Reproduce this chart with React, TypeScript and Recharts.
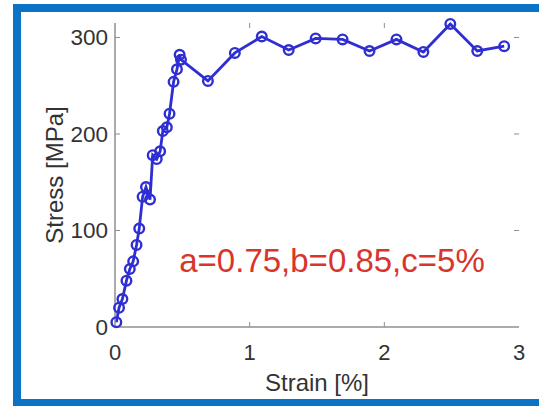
import { Line, LineChart, XAxis, YAxis } from "recharts";

const strain = [
  0.01, 0.03, 0.055, 0.085, 0.11, 0.135, 0.16, 0.18, 0.205, 0.23, 0.26, 0.28,
  0.31, 0.335, 0.355, 0.385, 0.405, 0.435, 0.46, 0.48, 0.49, 0.69, 0.89, 1.09,
  1.29, 1.49, 1.69, 1.89, 2.09, 2.29, 2.49, 2.69, 2.89,
];
const stress = [
  5, 20, 29, 48, 60, 68, 85, 102, 135, 145, 132, 178, 174, 182, 203, 207, 221,
  254, 267, 282, 277, 255, 284, 301, 287, 299, 298, 286, 298, 285, 314, 286, 291,
];
const xTicks = [0, 1, 2, 3];
const yTicks = [0, 100, 200, 300];
const note = "a=0.75,b=0.85,c=5%";

const data = strain.map((s, i) => ({ strain: s, stress: stress[i] }));

const W = 539;
const H = 406;
const PLOT = { left: 115, top: 23, right: 519, bottom: 327 };
const FONT = "Arial, 'Liberation Sans', Helvetica, sans-serif";
const AXIS = "#8f8f8f";
const TXT = "#333333";
const BLUE = "#2e2ed2";
const TICK = 5;

const XTick = (props: any) => {
  const { x, payload } = props;
  const inner = payload.value > 0 && payload.value < 3;
  return (
    <g>
      {inner && (
        <>
          <line x1={x} x2={x} y1={PLOT.bottom} y2={PLOT.bottom - TICK} stroke={AXIS} />
          <line x1={x} x2={x} y1={PLOT.top} y2={PLOT.top + TICK} stroke={AXIS} />
        </>
      )}
      <text x={x} y={PLOT.bottom + 33} textAnchor="middle" fill={TXT} fontSize={22} fontFamily={FONT}>
        {payload.value}
      </text>
    </g>
  );
};

const YTick = (props: any) => {
  const { y, payload } = props;
  const inner = payload.value > 0;
  return (
    <g>
      {inner && (
        <>
          <line x1={PLOT.left} x2={PLOT.left + TICK} y1={y} y2={y} stroke={AXIS} />
          <line x1={PLOT.right} x2={PLOT.right - TICK} y1={y} y2={y} stroke={AXIS} />
        </>
      )}
      <text x={PLOT.left - 7} y={y + 8} textAnchor="end" fill={TXT} fontSize={22.5} fontFamily={FONT}>
        {payload.value}
      </text>
    </g>
  );
};

const Marker = (props: any) => {
  const { cx, cy } = props;
  return <circle cx={cx} cy={cy} r={4.8} fill="none" stroke={BLUE} strokeWidth={2.4} />;
};

export default function App() {
  return (
    <div style={{ position: "absolute", left: 0, top: 0, width: W, height: H, background: "#fff" }}>
      <div
        style={{
          position: "absolute",
          left: 13,
          top: 4,
          width: W - 13 - 8,
          height: H - 4 - 8 - 7,
          borderLeft: "8px solid #0a73c6",
          borderTop: "8px solid #0a73c6",
          borderBottom: "7px solid #0a73c6",
          borderRight: "none",
        }}
      />
      <div style={{ position: "absolute", left: 0, top: 0 }}>
        <LineChart
          width={W}
          height={H}
          data={data}
          margin={{ top: PLOT.top, right: W - PLOT.right, left: 0, bottom: 0 }}
        >
          <XAxis
            dataKey="strain"
            type="number"
            domain={[0, 3]}
            ticks={xTicks}
            height={H - PLOT.bottom}
            axisLine={{ stroke: AXIS, strokeWidth: 1.5 }}
            tickLine={false}
            tickSize={0}
            tickMargin={0}
            tick={<XTick />}
            interval={0}
            label={{
              value: "Strain [%]",
              position: "insideBottom",
              offset: 15,
              fill: TXT,
              fontSize: 24,
              fontFamily: FONT,
            }}
          />
          <XAxis
            xAxisId="top"
            orientation="top"
            dataKey="strain"
            type="number"
            domain={[0, 3]}
            height={0}
            tick={false}
            tickLine={false}
            axisLine={{ stroke: AXIS, strokeWidth: 1.5 }}
          />
          <YAxis
            type="number"
            domain={[0, 315]}
            ticks={yTicks}
            width={PLOT.left}
            axisLine={{ stroke: AXIS, strokeWidth: 1.5 }}
            tickLine={false}
            tickSize={0}
            tickMargin={0}
            tick={<YTick />}
            interval={0}
            label={{
              value: "Stress [MPa]",
              angle: -90,
              position: "center",
              dx: -3,
              fill: TXT,
              fontSize: 24,
              fontFamily: FONT,
            }}
          />
          <YAxis
            yAxisId="right"
            orientation="right"
            type="number"
            domain={[0, 315]}
            width={0}
            tick={false}
            tickLine={false}
            axisLine={{ stroke: AXIS, strokeWidth: 1.5 }}
          />
          <Line
            dataKey="stress"
            type="linear"
            stroke={BLUE}
            strokeWidth={2.8}
            dot={<Marker />}
            activeDot={false}
            isAnimationActive={false}
          />
        </LineChart>
      </div>
      <svg
        width={W}
        height={H}
        style={{ position: "absolute", left: 0, top: 0, pointerEvents: "none" }}
      >
        <text x={332} y={272} textAnchor="middle" fill="#d8352c" fontSize={33} fontFamily={FONT}>
          {note}
        </text>
      </svg>
    </div>
  );
}
